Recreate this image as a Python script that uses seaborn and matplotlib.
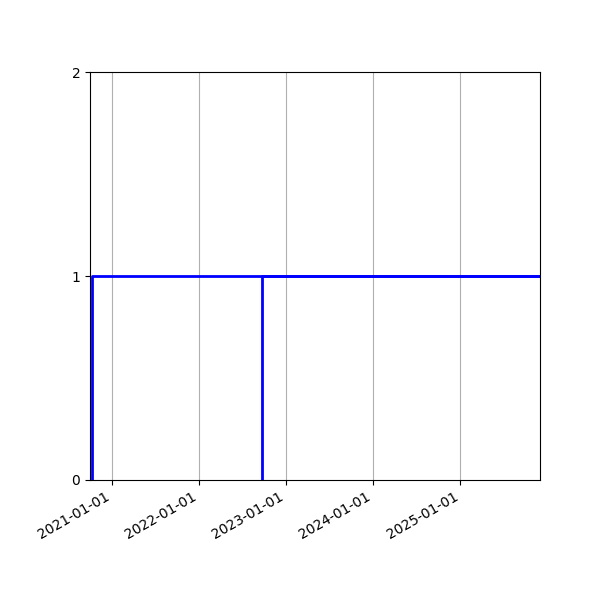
import numpy as np
import pandas as pd
import seaborn as sns
import matplotlib
matplotlib.use("Agg")
import matplotlib.pyplot as plt
import matplotlib.dates as mdates

# each series: starts at 0 and steps up to 1 at its start date
starts = ["2020-10-08", "2022-09-22"]
end_date = "2025-12-01"
step_values = [0, 1, 1]
x_start = "2020-10-01"

rows = []
for i, s in enumerate(starts):
	for d, v in zip([s, s, end_date], step_values):
		rows.append({"date": pd.Timestamp(d), "value": v, "series": i})
df = pd.DataFrame(rows)

fig, ax = plt.subplots(figsize=(6, 6), dpi=100)
for i in range(len(starts)):
	sub = df[df["series"] == i]
	sns.lineplot(data=sub, x="date", y="value", ax=ax, color="blue", linewidth=2, sort=False, estimator=None)

ax.set_xlim(pd.Timestamp(x_start), pd.Timestamp(end_date))
ax.set_ylim(0, 2)
ax.set_yticks([0, 1, 2])
ax.xaxis.set_major_locator(mdates.YearLocator())
ax.xaxis.set_major_formatter(mdates.DateFormatter("%Y-%m-%d"))
ax.grid(axis="x")
ax.set_xlabel("")
ax.set_ylabel("")
fig.autofmt_xdate()
fig.subplots_adjust(left=0.15, right=0.9, top=0.88, bottom=0.2)
fig.savefig("out.png")
